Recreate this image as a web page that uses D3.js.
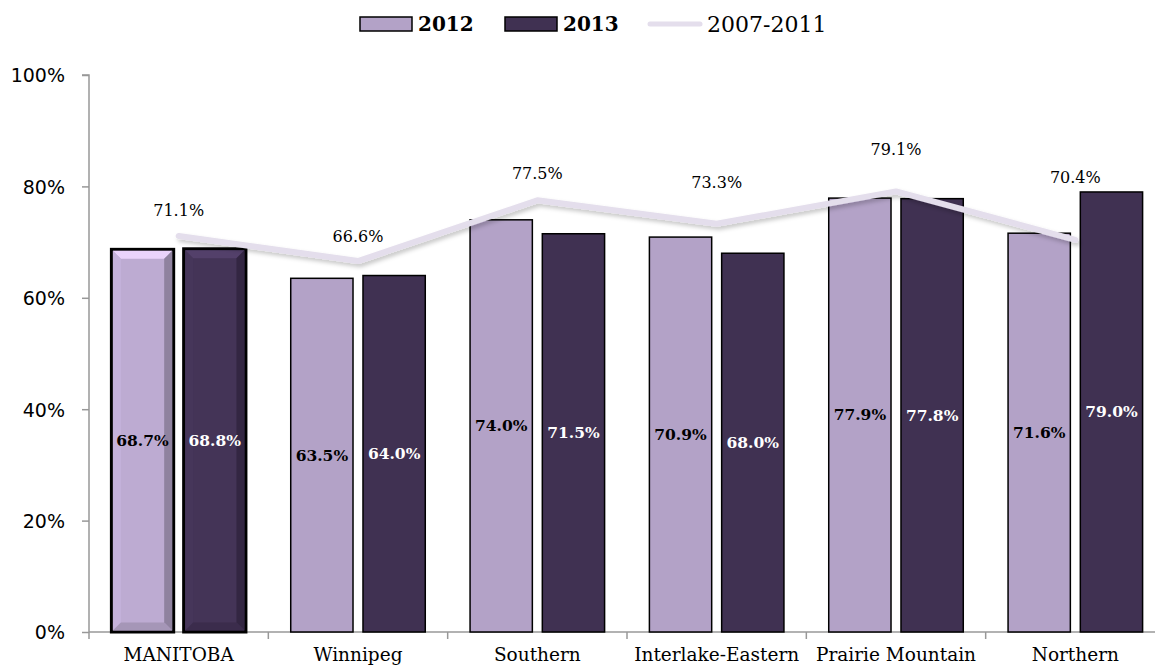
<!DOCTYPE html>
<html>
<head>
<meta charset="utf-8">
<script src="https://cdn.jsdelivr.net/npm/d3@7/dist/d3.min.js"></script>
<style>
  html, body { margin: 0; padding: 0; background: #fff; }
  svg { display: block; }
</style>
</head>
<body>
<svg id="chart" width="1155" height="670"></svg>
<script>
// Regional rates, with the 2007-2011 average shown as a line
const categories = ["MANITOBA", "Winnipeg", "Southern", "Interlake-Eastern", "Prairie Mountain", "Northern"];
const seriesNames = ["2012", "2013"];
const values2012 = [68.7, 63.5, 74.0, 70.9, 77.9, 71.6];
const values2013 = [68.8, 64.0, 71.5, 68.0, 77.8, 79.0];
const values0711 = [71.1, 66.6, 77.5, 73.3, 79.1, 70.4];
const yTicks = [0, 20, 40, 60, 80, 100];
const lineName = "2007-2011";

// Distance (px) of each line label above its point, kept clear of the bars
const lineLabelLift = [26, 25, 27, 41, 42, 62];

const colors = { "2012": "#b3a2c7", "2013": "#403152" };
const labelColors = { "2012": "#000", "2013": "#fff" };
const lineColor = "#e4deec";

const svg = d3.select("#chart");
const margin = { left: 89, top: 75, bottom: 632 };
const plotRight = 1165;

const x = d3.scaleBand().domain(categories).range([margin.left, plotRight]).padding(0);
const xs = d3.scaleBand().domain(seriesNames).range([0, x.bandwidth()])
  .paddingInner(0.138).paddingOuter(0.31);
const y = d3.scaleLinear().domain([0, 100]).range([margin.bottom, margin.top]);

const defs = svg.append("defs");
const shadow = defs.append("filter").attr("id", "lineShadow")
  .attr("x", "-10%").attr("y", "-50%").attr("width", "120%").attr("height", "200%");
shadow.append("feDropShadow").attr("dx", 2).attr("dy", 3).attr("stdDeviation", 2)
  .attr("flood-color", "#000").attr("flood-opacity", 0.22);

// Axes
const axisColor = "#989898";
const yAxis = svg.append("g").attr("transform", `translate(${margin.left},0)`)
  .call(d3.axisLeft(y).tickValues(yTicks).tickSize(7).tickFormat(d => d + "%"));
yAxis.select(".domain").attr("stroke", axisColor).attr("stroke-width", 1.5).attr("d", `M-7,${y(100)}H0V${y(0)}`);
yAxis.selectAll(".tick line").attr("stroke", axisColor).attr("stroke-width", 1.5);
yAxis.selectAll(".tick text").attr("fill", "#000").attr("font-family", "DejaVu Sans")
  .attr("font-size", 19).attr("x", -24).attr("dy", "0.36em");

const xAxis = svg.append("g").attr("transform", `translate(0,${margin.bottom})`);
xAxis.append("line").attr("x1", margin.left).attr("x2", plotRight).attr("stroke", axisColor).attr("stroke-width", 1.5);
const boundaries = categories.map(c => x(c)).concat([plotRight]);
xAxis.selectAll(".xtick").data(boundaries).join("line").attr("class", "xtick")
  .attr("x1", d => d).attr("x2", d => d).attr("y1", 0).attr("y2", 7)
  .attr("stroke", axisColor).attr("stroke-width", 1.5);
xAxis.selectAll(".xlabel").data(categories).join("text").attr("class", "xlabel")
  .attr("x", d => x(d) + x.bandwidth() / 2).attr("y", 29)
  .attr("text-anchor", "middle").attr("font-family", "DejaVu Serif").attr("font-size", 18.5)
  .attr("fill", "#000").text(d => d);

// Bars
const rows = categories.map((c, i) => ({ cat: c, i, vals: { "2012": values2012[i], "2013": values2013[i] } }));
const barData = rows.flatMap(r => seriesNames.map(s => ({ cat: r.cat, i: r.i, series: s, value: r.vals[s] })));

const bars = svg.append("g");
bars.selectAll("rect").data(barData).join("rect")
  .attr("x", d => x(d.cat) + xs(d.series))
  .attr("y", d => y(d.value))
  .attr("width", xs.bandwidth())
  .attr("height", d => y(0) - y(d.value))
  .attr("fill", d => d.i === 0 ? d3.color(colors[d.series]).brighter(0.15) : colors[d.series])
  .attr("stroke", "#000")
  .attr("stroke-width", d => d.i === 0 ? 3 : 1.5);

// Bevelled edges on the provincial bars
const bev = 8;
barData.filter(d => d.i === 0).forEach(d => {
  const x0 = x(d.cat) + xs(d.series) + 1.5, x1 = x0 + xs.bandwidth() - 3;
  const y0 = y(d.value) + 1.5, y1 = y(0) - 1.5;
  const base = d3.color(colors[d.series]);
  const g = bars.append("g");
  const poly = (pts, fill, op) => g.append("polygon").attr("points", pts.map(p => p.join(",")).join(" "))
    .attr("fill", fill).attr("opacity", op);
  poly([[x0, y0], [x1, y0], [x1 - bev, y0 + bev], [x0 + bev, y0 + bev]], base.brighter(0.8), 0.9);
  poly([[x0, y0], [x0 + bev, y0 + bev], [x0 + bev, y1 - bev], [x0, y1]], base.brighter(0.3), 0.8);
  poly([[x1, y0], [x1, y1], [x1 - bev, y1 - bev], [x1 - bev, y0 + bev]], base.darker(0.8), 0.85);
  poly([[x0, y1], [x0 + bev, y1 - bev], [x1 - bev, y1 - bev], [x1, y1]], base.darker(0.3), 0.85);
});

// Value labels inside the bars
svg.append("g").selectAll("text").data(barData).join("text")
  .attr("x", d => x(d.cat) + xs(d.series) + xs.bandwidth() / 2)
  .attr("y", d => (y(d.value) + y(0)) / 2)
  .attr("dy", "0.35em").attr("text-anchor", "middle")
  .attr("font-family", "DejaVu Serif").attr("font-weight", "bold").attr("font-size", 15.5)
  .attr("fill", d => labelColors[d.series])
  .text(d => d.value.toFixed(1) + "%");

// 2007-2011 line
const lineData = categories.map((c, i) => ({ cat: c, value: values0711[i], lift: lineLabelLift[i] }));
const line = d3.line().x(d => x(d.cat) + x.bandwidth() / 2).y(d => y(d.value));
svg.append("path").datum(lineData).attr("d", line)
  .attr("fill", "none").attr("stroke", lineColor).attr("stroke-width", 6)
  .attr("stroke-linecap", "round").attr("stroke-linejoin", "round")
  .attr("filter", "url(#lineShadow)");

svg.append("g").selectAll("text").data(lineData).join("text")
  .attr("x", d => x(d.cat) + x.bandwidth() / 2)
  .attr("y", d => y(d.value) - d.lift).attr("dy", "0.35em").attr("text-anchor", "middle")
  .attr("font-family", "DejaVu Serif").attr("font-size", 16).attr("fill", "#000")
  .text(d => d.value.toFixed(1) + "%");

// Legend
const legend = svg.append("g").attr("transform", "translate(0,24)");
const legendItems = [
  { name: "2012", x: 360, type: "bar" },
  { name: "2013", x: 505, type: "bar" },
  { name: lineName, x: 647, type: "line" }
];
legendItems.forEach(it => {
  if (it.type === "bar") {
    legend.append("rect").attr("x", it.x).attr("y", -7).attr("width", 52).attr("height", 14)
      .attr("fill", colors[it.name]).attr("stroke", "#000").attr("stroke-width", 1.5);
    legend.append("text").attr("x", it.x + 58).attr("y", 0).attr("dy", "0.36em")
      .attr("font-family", "DejaVu Serif").attr("font-weight", "bold").attr("font-size", 20)
      .attr("fill", "#000").text(it.name);
  } else {
    legend.append("line").attr("x1", it.x + 3).attr("x2", it.x + 53).attr("y1", 0).attr("y2", 0)
      .attr("stroke", lineColor).attr("stroke-width", 5).attr("stroke-linecap", "round");
    legend.append("text").attr("x", it.x + 60).attr("y", 0).attr("dy", "0.36em")
      .attr("font-family", "DejaVu Serif").attr("font-size", 22)
      .attr("fill", "#000").text(it.name);
  }
});
</script>
</body>
</html>
